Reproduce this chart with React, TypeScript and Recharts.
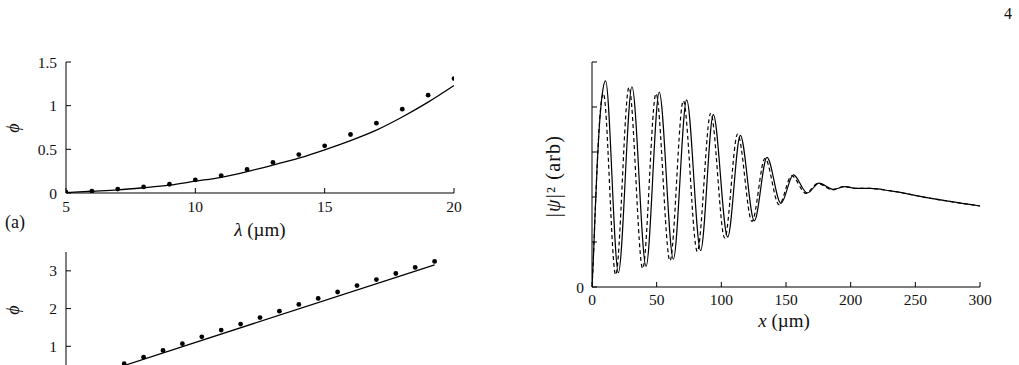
import { ComposedChart, Line, Scatter, XAxis, YAxis } from "recharts";

const SERIF = "Liberation Serif";
const INK = "#111";

// (a) phase vs wavelength
const lambdaA = [5, 6, 7, 8, 9, 10, 11, 12, 13, 14, 15, 16, 17, 18, 19, 20];
const phiDotsA = [0.01, 0.02, 0.045, 0.07, 0.1, 0.15, 0.2, 0.27, 0.35, 0.44, 0.54, 0.67, 0.8, 0.96, 1.12, 1.31];
const phiCurveA = [0.005, 0.02, 0.035, 0.06, 0.09, 0.135, 0.18, 0.245, 0.32, 0.4, 0.495, 0.6, 0.72, 0.87, 1.04, 1.23];
const ticksXA = [5, 10, 15, 20];
const ticksYA = [0, 0.5, 1, 1.5];

// (b) lower panel, cut off by the page
const xB = [0.6, 0.8, 1, 1.2, 1.4, 1.6, 1.8, 2, 2.2, 2.4, 2.6, 2.8, 3, 3.2, 3.4, 3.6, 3.8];
const phiDotsB = [0.54, 0.71, 0.89, 1.07, 1.25, 1.43, 1.59, 1.76, 1.93, 2.11, 2.27, 2.44, 2.61, 2.77, 2.93, 3.09, 3.25];
const lineBX = [0.6, 3.8];
const lineBY = [0.49, 3.16];
const ticksXB = [1, 2, 3];
const ticksYB = [1, 2, 3];

// |psi|^2 along x
const xSolid = [0, 1, 2.5, 4, 6, 8, 10.5, 20.4, 30.9, 41.8, 52, 62.9, 73.2, 84, 93.8, 104.9, 114.7, 125.5, 135.3, 146.1, 155.7, 166.5, 175.5, 186.6, 195.6, 205, 215, 230, 260, 300];
const psiSolid = [0, 0.6, 1.7, 2.7, 3.7, 4.3, 4.58, 0.32, 4.45, 0.46, 4.33, 0.62, 4.16, 0.81, 3.83, 1.11, 3.37, 1.47, 2.88, 1.86, 2.49, 2.09, 2.31, 2.17, 2.23, 2.19, 2.19, 2.14, 1.98, 1.8];
const xDashed = [0, 1, 2.5, 4, 6, 8.8, 18.3, 28.6, 39.2, 49.5, 60.3, 70.6, 81.4, 91.8, 102.6, 112.6, 123.7, 133.8, 144.6, 154.4, 165.5, 174.5, 186, 194.8, 205, 215, 230, 260, 300];
const psiDashed = [0, 0.6, 1.7, 2.7, 3.75, 4.3, 0.27, 4.44, 0.41, 4.3, 0.58, 4.14, 0.79, 3.86, 1.09, 3.4, 1.46, 2.86, 1.83, 2.47, 2.08, 2.3, 2.16, 2.23, 2.19, 2.19, 2.14, 1.98, 1.8];
const ticksXP = [0, 50, 100, 150, 200, 250, 300];
const ticksYP = [0, 1, 2, 3, 4, 5];

const pts = (xs: number[], ys: number[]) => xs.map((x, i) => ({ x, y: ys[i] }));

const tickFont = { fill: INK, fontSize: 15.5, fontFamily: SERIF };
const blank = () => "";
const dotShape = (p: any) => <circle cx={p.cx} cy={p.cy} r={2.4} fill="#000" />;

// absolutely placed text, centred on (cx, cy)
const label = (cx: number, cy: number, size: number, rotate = false, spacing = 0): React.CSSProperties => ({
  position: "absolute",
  left: cx,
  top: cy,
  transform: rotate ? "translate(-50%, -50%) rotate(-90deg)" : "translate(-50%, -50%)",
  fontFamily: SERIF,
  fontSize: size,
  letterSpacing: spacing,
  color: INK,
  whiteSpace: "nowrap",
  lineHeight: 1,
});

export default function App() {
  return (
    <div style={{ position: "absolute", left: 0, top: 0, width: 1019, height: 365, overflow: "hidden", background: "#fff", fontFamily: SERIF }}>
      <div style={label(1008, 14, 16)}>4</div>

      {/* panel (a) */}
      <div style={{ position: "absolute", left: 0, top: 0 }}>
        <ComposedChart width={470} height={240} margin={{ top: 62, right: 16, bottom: 17, left: 26 }}>
          <XAxis xAxisId="b" dataKey="x" type="number" domain={[5, 20]} ticks={ticksXA} allowDataOverflow
            tickSize={-5} tickMargin={13} height={30} tick={tickFont} stroke="#000" />
          <XAxis xAxisId="t" orientation="top" dataKey="x" type="number" domain={[5, 20]} ticks={ticksXA} allowDataOverflow
            tickSize={-5} tickFormatter={blank} height={0} stroke="#000" />
          <YAxis yAxisId="l" type="number" domain={[0, 1.5]} ticks={ticksYA} allowDataOverflow
            tickSize={-5} tickMargin={14} width={40} tick={tickFont} stroke="#000" />
          <YAxis yAxisId="r" orientation="right" type="number" domain={[0, 1.5]} ticks={ticksYA} allowDataOverflow
            tickSize={-5} tickFormatter={blank} width={0} stroke="#000" />
          <Line xAxisId="b" yAxisId="l" data={pts(lambdaA, phiCurveA)} dataKey="y" type="monotone"
            stroke="#000" strokeWidth={1.3} dot={false} isAnimationActive={false} />
          <Scatter xAxisId="b" yAxisId="l" data={pts(lambdaA, phiDotsA)} dataKey="y" fill="#000"
            shape={dotShape} isAnimationActive={false} />
        </ComposedChart>
      </div>
      <div style={label(13, 128, 18, true)}><i>ϕ</i></div>
      <div style={label(15, 222, 18)}>(a)</div>
      <div style={label(260, 229, 19)}>
        <i>λ</i> (µm)
      </div>

      {/* lower panel */}
      <div style={{ position: "absolute", left: 0, top: 240 }}>
        <ComposedChart width={470} height={184} margin={{ top: 12, right: 16, bottom: 10, left: 26 }}>
          <XAxis xAxisId="b" dataKey="x" type="number" domain={[0, 4]} ticks={ticksXB} allowDataOverflow
            tickSize={-5} tickFormatter={blank} height={30} stroke="#000" />
          <XAxis xAxisId="t" orientation="top" dataKey="x" type="number" domain={[0, 4]} ticks={ticksXB} allowDataOverflow
            tickSize={-5} tickFormatter={blank} height={0} stroke="#000" />
          <YAxis yAxisId="l" type="number" domain={[0, 3.5]} ticks={ticksYB} allowDataOverflow
            tickSize={-5} tickMargin={14} width={40} tick={tickFont} stroke="#000" />
          <YAxis yAxisId="r" orientation="right" type="number" domain={[0, 3.5]} ticks={ticksYB} allowDataOverflow
            tickSize={-5} tickFormatter={blank} width={0} stroke="#000" />
          <Line xAxisId="b" yAxisId="l" data={pts(lineBX, lineBY)} dataKey="y" type="linear"
            stroke="#000" strokeWidth={1.3} dot={false} isAnimationActive={false} />
          <Scatter xAxisId="b" yAxisId="l" data={pts(xB, phiDotsB)} dataKey="y" fill="#000"
            shape={dotShape} isAnimationActive={false} />
        </ComposedChart>
      </div>
      <div style={label(13, 310, 18, true)}><i>ϕ</i></div>

      {/* |psi|^2 panel */}
      <div style={{ position: "absolute", left: 520, top: 0 }}>
        <ComposedChart width={499} height={365} margin={{ top: 62, right: 39, bottom: 48, left: 32 }}>
          <XAxis xAxisId="b" dataKey="x" type="number" domain={[0, 300]} ticks={ticksXP} allowDataOverflow
            tickSize={-5} tickMargin={12} height={30} tick={tickFont} stroke="#000" />
          <XAxis xAxisId="t" orientation="top" dataKey="x" type="number" domain={[0, 300]} ticks={ticksXP} allowDataOverflow
            tickSize={-5} tickFormatter={blank} height={0} stroke="#000" />
          <YAxis yAxisId="l" type="number" domain={[0, 5]} ticks={ticksYP} allowDataOverflow
            tickSize={-5} tickMargin={13} width={40} tick={tickFont} stroke="#000"
            tickFormatter={(v: number) => (v === 0 ? "0" : "")} />
          <YAxis yAxisId="r" orientation="right" type="number" domain={[0, 5]} ticks={ticksYP} allowDataOverflow
            tickSize={-5} tickFormatter={blank} width={0} stroke="#000" />
          <Line xAxisId="b" yAxisId="l" data={pts(xDashed, psiDashed)} dataKey="y" type="monotone"
            stroke="#000" strokeWidth={1.2} strokeDasharray="4 3" dot={false} isAnimationActive={false} />
          <Line xAxisId="b" yAxisId="l" data={pts(xSolid, psiSolid)} dataKey="y" type="monotone"
            stroke="#000" strokeWidth={1.2} dot={false} isAnimationActive={false} />
        </ComposedChart>
      </div>
      <div style={label(553, 176, 20, true, 1.2)}>
        |<i>ψ</i>|² (arb)
      </div>
      <div style={label(784, 320, 19)}>
        <i>x</i> (µm)
      </div>
    </div>
  );
}
